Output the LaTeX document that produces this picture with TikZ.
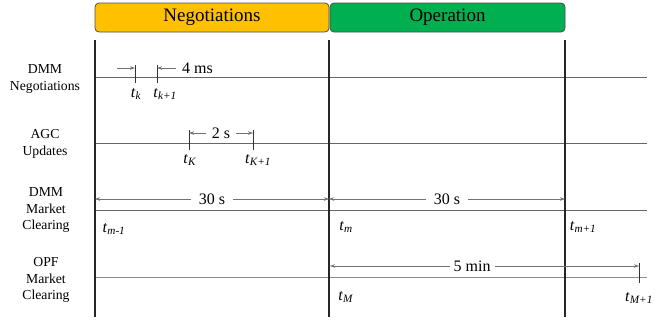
\documentclass[tikz,border=0pt]{standalone}
\usepackage{fontspec}
\setmainfont{Liberation Serif}
\usetikzlibrary{arrows.meta}
\definecolor{negyellow}{HTML}{FFC000}
\definecolor{opgreen}{HTML}{00B050}
\newcommand{\tsub}[1]{\textit{t}\textsubscript{\textit{#1}}}

\begin{document}
\begin{tikzpicture}[x=1pt, y=-1pt,
    phase/.style={draw=black!70, rounded corners=4pt, line width=0.8pt, inner sep=0pt,
        minimum height=29pt, font=\fontsize{19}{22}\selectfont},
    timeline/.style={draw=black!60, line width=0.9pt},
    boundline/.style={draw=black!85, line width=1.3pt},
    tickline/.style={draw=black!80, line width=0.9pt},
    spanarrow/.style={draw=black!55, line width=0.6pt, -{Stealth[length=5pt,width=3.5pt]}},
    spantext/.style={fill=white, inner xsep=8pt, inner ysep=1pt, font=\fontsize{16}{18}\selectfont},
    rowlabel/.style={align=center, font=\fontsize{13.7}{16.5}\selectfont},
    tlabel/.style={font=\fontsize{16}{18}\selectfont}]
    \useasboundingbox (0,0) rectangle (660,322);

    % phases
    \node[phase, fill=negyellow, minimum width=234pt] (neg) at (212,17.5) {Negotiations};
    \node[phase, fill=opgreen, minimum width=235pt] (oper) at (447.5,17.5) {Operation};

    % row labels
    \node[rowlabel] (dmmneg) at (45,79) {DMM\\Negotiations};
    \node[rowlabel] (agc) at (45,144) {AGC\\Updates};
    \node[rowlabel] (dmmmc) at (46,210) {DMM\\Market\\Clearing};
    \node[rowlabel] (opfmc) at (46,280) {OPF\\Market\\Clearing};

    % time lines
    \coordinate (r1a) at (95,77);  \coordinate (r1b) at (647,77);
    \coordinate (r2a) at (95,143); \coordinate (r2b) at (647,143);
    \coordinate (r3a) at (95,210); \coordinate (r3b) at (647,210);
    \coordinate (r4a) at (95,277); \coordinate (r4b) at (647,277);
    \draw[timeline] (r1a) -- (r1b);
    \draw[timeline] (r2a) -- (r2b);
    \draw[timeline] (r3a) -- (r3b);
    \draw[timeline, draw=black!45] (r4a) -- (r4b);

    % phase boundaries
    \coordinate (b1) at (95,40);  \coordinate (b1e) at (95,317);
    \coordinate (b2) at (329,40); \coordinate (b2e) at (329,317);
    \coordinate (b3) at (565,40); \coordinate (b3e) at (565,317);
    \draw[boundline] (b1) -- (b1e);
    \draw[boundline] (b2) -- (b2e);
    \draw[boundline] (b3) -- (b3e);

    % DMM negotiations, 4 ms
    \coordinate (tk) at (135,65);   \draw[tickline] (tk) -- ++(0,18);
    \coordinate (tk1) at (157,65);  \draw[tickline] (tk1) -- ++(0,18);
    \coordinate (a1) at (117,68);   \coordinate (a1e) at (135,68);
    \coordinate (a2) at (176,68);   \coordinate (a2e) at (157,68);
    \draw[spanarrow] (a1) -- (a1e);
    \draw[spanarrow] (a2) -- (a2e);
    \node[tlabel, anchor=west, inner sep=0pt] (d4ms) at (182,68) {4 ms};
    \node[tlabel] (ltk) at (136,94) {\tsub{k}};
    \node[tlabel] (ltk1) at (165,94) {\tsub{k+1}};

    % AGC updates, 2 s
    \coordinate (tK) at (189,130);  \draw[tickline] (tK) -- ++(0,20);
    \coordinate (tK1) at (253,130); \draw[tickline] (tK1) -- ++(0,20);
    \coordinate (c1) at (206,133);  \coordinate (c1e) at (189,133);
    \coordinate (c2) at (236,133);  \coordinate (c2e) at (253,133);
    \draw[spanarrow] (c1) -- (c1e);
    \draw[spanarrow] (c2) -- (c2e);
    \node[tlabel] (d2s) at (221,133) {2 s};
    \node[tlabel] (ltK) at (190,160) {\tsub{K}};
    \node[tlabel] (ltK1) at (258,160) {\tsub{K+1}};

    % DMM market clearing, 30 s
    \coordinate (m0) at (95,199); \coordinate (m1) at (329,199); \coordinate (m2) at (565,199);
    \draw[spanarrow, {Stealth[length=5pt,width=3.5pt]}-{Stealth[length=5pt,width=3.5pt]}]
        (m0) -- node[spantext] (d30a) {30 s} (m1);
    \draw[spanarrow, {Stealth[length=5pt,width=3.5pt]}-{Stealth[length=5pt,width=3.5pt]}]
        (m1) -- node[spantext] (d30b) {30 s} (m2);
    \node[tlabel] (ltm0) at (114,229) {\tsub{m-1}};
    \node[tlabel] (ltm) at (346,227) {\tsub{m}};
    \node[tlabel] (ltm1) at (583,227) {\tsub{m+1}};

    % OPF market clearing, 5 min
    \coordinate (tM1) at (639,263); \draw[tickline] (tM1) -- ++(0,20);
    \coordinate (o0) at (330,266); \coordinate (o1) at (639,266);
    \draw[spanarrow, {Stealth[length=5pt,width=3.5pt]}-{Stealth[length=5pt,width=3.5pt]}]
        (o0) -- node[spantext, pos=0.46, inner xsep=4pt] (d5min) {5 min} (o1);
    \node[tlabel] (ltM) at (346,297) {\tsub{M}};
    \node[tlabel] (ltM1) at (639,298) {\tsub{M+1}};
\end{tikzpicture}
\end{document}
